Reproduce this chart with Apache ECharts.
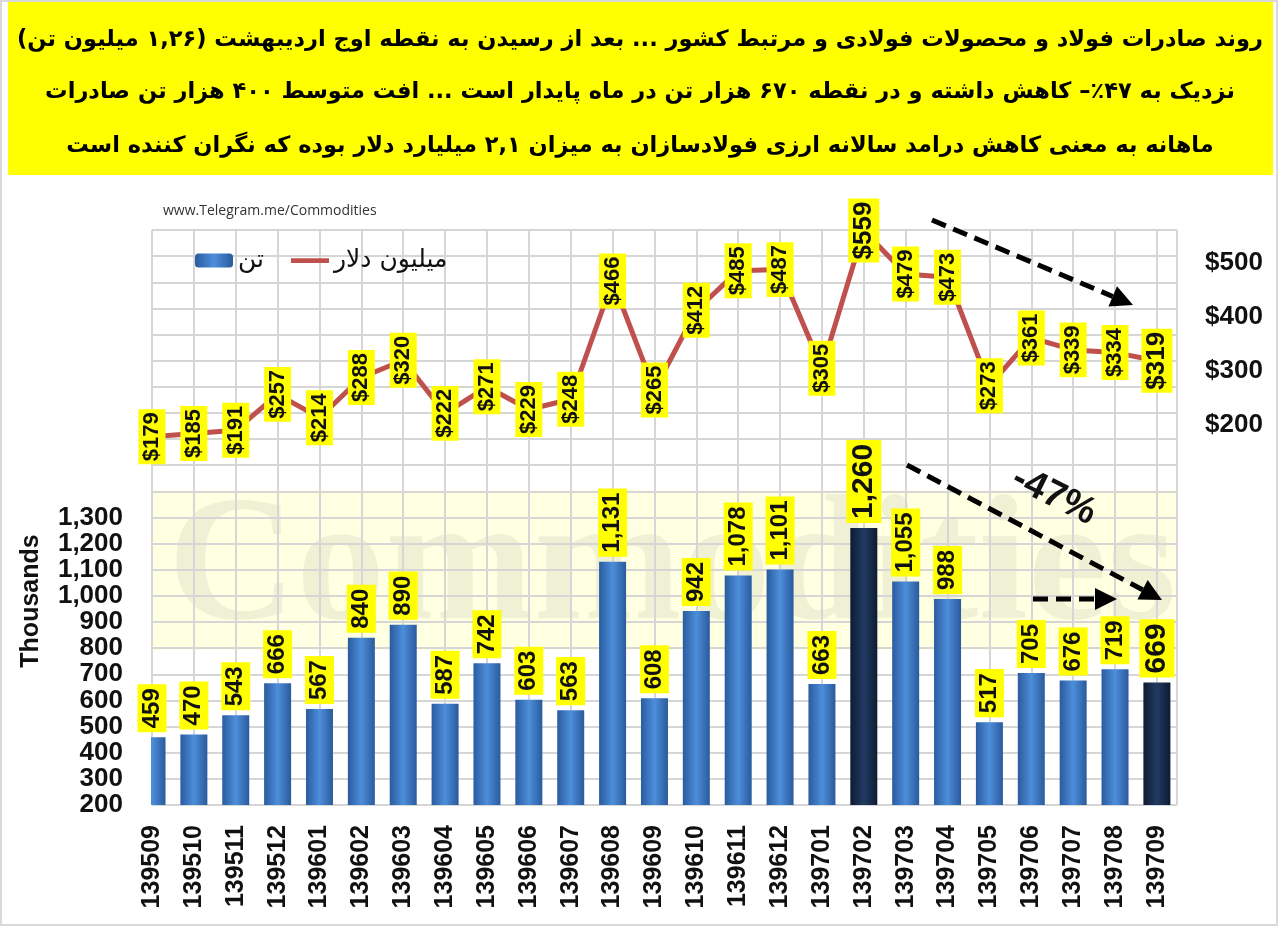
<!DOCTYPE html>
<html>
<head>
<meta charset="utf-8">
<script src="https://cdn.jsdelivr.net/npm/echarts@6/dist/echarts.min.js"></script>
<style>
html,body{margin:0;padding:0;background:#fff;}
#c{width:1280px;height:928px;}
</style>
</head>
<body>
<div id="c"></div>
<script>
const categories = ['139509','139510','139511','139512','139601','139602','139603','139604','139605','139606','139607','139608','139609','139610','139611','139612','139701','139702','139703','139704','139705','139706','139707','139708','139709'];
const tonnes = [459,470,543,666,567,840,890,587,742,603,563,1131,608,942,1078,1101,663,1260,1055,988,517,705,676,719,669];
const dollars = [179,185,191,257,214,288,320,222,271,229,248,466,265,412,485,487,305,559,479,473,273,361,339,334,319];
const leftTickMax = 1300;
const rightTickLabels = [200,300,400,500];
const seriesNames = ['تن','میلیون دلار'];
const titleLines = [
  'روند صادرات فولاد و محصولات فولادی و مرتبط کشور ... بعد از رسیدن به نقطه اوج اردیبهشت (۱,۲۶ میلیون تن)',
  'نزدیک به ۴۷٪– کاهش داشته و در نقطه ۶۷۰ هزار تن در ماه پایدار است ... افت متوسط ۴۰۰ هزار تن صادرات',
  'ماهانه به معنی کاهش درامد سالانه ارزی فولادسازان به میزان ۲,۱ میلیارد دلار بوده که نگران کننده است'
];
const sourceText = 'www.Telegram.me/Commodities';
const yAxisTitle = 'Thousands';
const dropText = '-47%';

const FONT = "'Liberation Sans Narrow','Arial Narrow','Liberation Sans',Arial,sans-serif";
const fmt = v => v.toLocaleString('en-US');

const lastIdx = categories.length - 1;
const maxT = tonnes.indexOf(Math.max(...tonnes));
const maxD = dollars.indexOf(Math.max(...dollars));

const blueGrad = {type:'linear',x:0,y:0,x2:1,y2:0,colorStops:[{offset:0,color:'#2a5b9f'},{offset:0.5,color:'#4d8edb'},{offset:1,color:'#2a5a9c'}]};
const darkGrad = {type:'linear',x:0,y:0,x2:1,y2:0,colorStops:[{offset:0,color:'#0e1b33'},{offset:0.5,color:'#223b62'},{offset:1,color:'#0e1b33'}]};

const barData = tonnes.map((v,i)=>{
  const hl = (i===maxT || i===lastIdx);
  const d = {value:[i,v]};
  if (hl) { d.itemStyle = {color: darkGrad}; d.label = {fontSize: 30}; }
  return d;
});
const lineData = dollars.map((v,i)=>{
  const hl = (i===maxD || i===lastIdx);
  const d = {value:[i,v]};
  if (hl) d.label = {fontSize: 26};
  return d;
});

function arrow(x1,y1,x2,y2){
  const ang = Math.atan2(y2-y1,x2-x1);
  const hl = 22, hw = 11;
  const bx = x2 - hl*Math.cos(ang), by = y2 - hl*Math.sin(ang);
  const px = -Math.sin(ang)*hw, py = Math.cos(ang)*hw;
  return [
    {type:'line', z:100, shape:{x1:x1,y1:y1,x2:bx,y2:by}, style:{stroke:'#000',lineWidth:5,lineDash:[15,8]}},
    {type:'polygon', z:100, shape:{points:[[x2,y2],[bx+px,by+py],[bx-px,by-py]]}, style:{fill:'#000'}}
  ];
}

const RLM = '\u200F';
const graphics = [
  {type:'rect', z:-10, shape:{x:1,y:1,width:1276,height:924}, style:{fill:'#fff',stroke:'#d9d9d9',lineWidth:2}},
  {type:'rect', z:-9, shape:{x:8,y:2,width:1265,height:173}, style:{fill:'#ffff00'}},
  {type:'rect', z:-8, shape:{x:152,y:490,width:1025,height:160}, style:{fill:'rgba(255,255,190,0.45)'}},
  {type:'text', z:-7, x:672, y:572, style:{text:'Commodities', font:"bold 178px 'Liberation Serif',serif", fill:'rgba(0,0,0,0.06)', textAlign:'center', textVerticalAlign:'middle'}},
  {type:'text', x:163, y:211, style:{text:sourceText, font:"14px 'Open Sans',sans-serif", fill:'#333', textVerticalAlign:'middle'}},
  {type:'text', x:31, y:601, rotation:Math.PI/2, style:{text:yAxisTitle, font:"bold 25px 'Liberation Sans',sans-serif", fill:'#111', textAlign:'center', textVerticalAlign:'middle'}},
  {type:'text', z:100, x:1054, y:496, rotation:-0.46, style:{text:dropText, font:"bold 38px 'Liberation Sans',sans-serif", fill:'#111', textAlign:'center', textVerticalAlign:'middle'}}
];
const titleY = [40, 92, 146];
titleLines.forEach((t,i)=>{
  graphics.push({type:'text', z:5, x:640, y:titleY[i], style:{text:RLM+t+RLM, font:"bold 22.5px 'DejaVu Sans',sans-serif", fill:'#000', textAlign:'center', textVerticalAlign:'middle'}});
});
graphics.push(...arrow(932,220,1133,305));
graphics.push(...arrow(907,465,1162,600));
graphics.push(...arrow(1033,599,1117,599));

const chart = echarts.init(document.getElementById('c'));
chart.setOption({
  animation:false,
  backgroundColor:'transparent',
  grid:{left:152,right:103,top:230,bottom:123,containLabel:false},
  legend:{
    left:190, top:243, itemWidth:38, itemHeight:14, itemGap:27,
    data:[{name:seriesNames[0]},{name:seriesNames[1], icon:'path://M0,0h40v5h-40z'}],
    textStyle:{fontSize:25, color:'#111', fontFamily:"'DejaVu Sans',sans-serif"}
  },
  xAxis:{
    type:'value', min:0, max:24.48, interval:1,
    axisLine:{show:false}, axisTick:{show:false},
    splitLine:{show:true, lineStyle:{color:'#d6d6d6', width:2}},
    axisLabel:{
      rotate:90, margin:20, fontSize:25, fontWeight:'bold', fontFamily:FONT, color:'#111',
      showMinLabel:true,
      formatter: v => (Number.isInteger(v) && categories[v]) ? categories[v] : ''
    }
  },
  yAxis:[
    {
      type:'value', min:200, max:2400, interval:100, position:'left',
      axisLine:{show:false}, axisTick:{show:false},
      splitLine:{show:true, lineStyle:{color:'#d6d6d6', width:2}},
      axisLabel:{margin:29, fontSize:26, fontWeight:'bold', fontFamily:FONT, color:'#111', showMinLabel:true,
        formatter: v => v<=leftTickMax ? fmt(v) : ''}
    },
    {
      type:'value', min:-500, max:560, interval:100, position:'right',
      axisLine:{show:false}, axisTick:{show:false}, splitLine:{show:false},
      axisLabel:{margin:28, fontSize:26, fontWeight:'bold', fontFamily:FONT, color:'#111',
        formatter: v => rightTickLabels.includes(v) ? '$'+v : ''}
    }
  ],
  series:[
    {
      name:seriesNames[0], type:'bar', xAxisIndex:0, yAxisIndex:0, barWidth:27,
      itemStyle:{color:blueGrad},
      data:barData,
      label:{
        show:true, position:'top', distance:5, rotate:90, align:'left', verticalAlign:'middle',
        fontSize:24, fontWeight:'bold', fontFamily:FONT, color:'#111',
        backgroundColor:'#ffff00', padding:[3,4,2,4],
        formatter: p => fmt(p.value[1])
      },
      z:3
    },
    {
      name:seriesNames[1], type:'line', xAxisIndex:0, yAxisIndex:1,
      symbol:'circle', symbolSize:2, showSymbol:true, showAllSymbol:true, clip:false,
      lineStyle:{color:'#c0504d', width:5}, itemStyle:{color:'#c0504d'},
      data:lineData,
      labelLayout:{hideOverlap:false},
      label:{
        show:true, position:'inside', rotate:90, align:'center', verticalAlign:'middle',
        fontSize:22, fontWeight:'bold', fontFamily:FONT, color:'#111',
        backgroundColor:'#ffff00', padding:[3,3,2,3],
        formatter: p => '$'+p.value[1]
      },
      z:4
    }
  ],
  graphic:{elements:graphics}
});

// cover the part of the first bar that falls left of the plot edge (as in the source chart)
const topPx = chart.convertToPixel({xAxisIndex:0, yAxisIndex:0}, [0, tonnes[0]]);
const basePx = chart.convertToPixel({xAxisIndex:0, yAxisIndex:0}, [0, 200]);
graphics.push({type:'rect', z:50, shape:{x:topPx[0]-20, y:topPx[1]-1, width:19, height:basePx[1]-topPx[1]+3}, style:{fill:'#fff'}});
chart.setOption({graphic:{elements:graphics}});
</script>
</body>
</html>
